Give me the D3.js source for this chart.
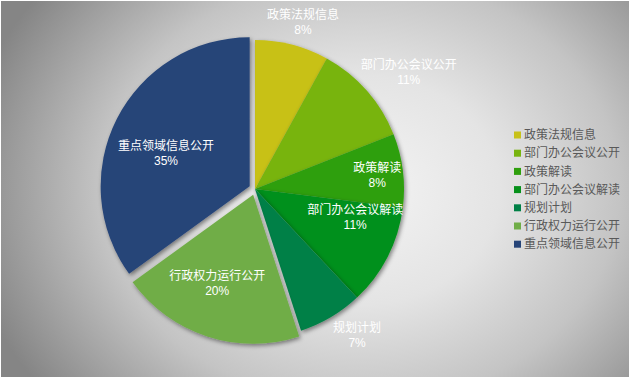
<!DOCTYPE html>
<html><head><meta charset="utf-8">
<script src="https://cdn.jsdelivr.net/npm/d3@7"></script>
<style>html,body{margin:0;padding:0;background:#fff;}svg{display:block;}</style>
</head><body>
<svg id="chart" width="630" height="378"></svg>
<script>
const categories = ["政策法规信息","部门办公会议公开","政策解读","部门办公会议解读","规划计划","行政权力运行公开","重点领域信息公开"];
const values = [8, 11, 8, 11, 7, 20, 35];
const colors = ["#c8c119","#78b40f","#2f9f0d","#06901a","#008046","#70ad47","#264478"];
const explode = [0, 0, 0, 0, 0, 6, 6];
// label layout: radius from centre and angular nudge (degrees)
const labelRadius = [174, 193, 123, 104, 178, 101, 96];
const labelNudge = [1.6, 4.2, 0.7, -11.4, -4.4, 4, -5];

const W = 630, H = 378, cx = 255, cy = 189, R = 149;
const svg = d3.select("#chart");
const defs = svg.append("defs");
const rg = defs.append("radialGradient").attr("id","bg")
  .attr("gradientUnits","userSpaceOnUse")
  .attr("cx",360).attr("cy",190).attr("r",400)
  .attr("gradientTransform","translate(360,190) scale(1,0.82) translate(-360,-190)");
[[0,"#f4f4f4"],[0.35,"#e4e4e4"],[0.65,"#c4c4c4"],[1,"#858585"]].forEach(s=>
  rg.append("stop").attr("offset",s[0]).attr("stop-color",s[1]));
const f = defs.append("filter").attr("id","sh").attr("x","-20%").attr("y","-20%").attr("width","140%").attr("height","140%");
f.append("feDropShadow").attr("dx",1.5).attr("dy",2).attr("stdDeviation",2).attr("flood-color","#000").attr("flood-opacity",0.45);

svg.append("rect").attr("x",1).attr("y",1).attr("width",W-2).attr("height",H-2).attr("fill","url(#bg)");

const pie = d3.pie().value(d=>d).sort(null);
const arcs = pie(values);
const arc = d3.arc().innerRadius(0).outerRadius(R);

const g = svg.append("g").attr("transform",`translate(${cx},${cy})`);
g.selectAll("path").data(arcs).join("path")
  .attr("d", arc)
  .attr("fill", (d,i)=>colors[i])
  .attr("filter","url(#sh)")
  .attr("transform",(d,i)=>{
    const a = (d.startAngle+d.endAngle)/2;
    return `translate(${explode[i]*Math.sin(a)},${-explode[i]*Math.cos(a)})`;
  });

const font = "'Noto Sans CJK SC','Microsoft YaHei',sans-serif";
const numFont = "'Liberation Sans',Arial,sans-serif";
const lab = g.selectAll("g.lab").data(arcs).join("g")
  .attr("class","lab")
  .attr("transform",(d,i)=>{
    const a = (d.startAngle+d.endAngle)/2 + labelNudge[i]*Math.PI/180;
    return `translate(${labelRadius[i]*Math.sin(a)},${-labelRadius[i]*Math.cos(a)})`;
  });
lab.append("text").attr("text-anchor","middle").attr("y",-3)
  .attr("font-family",font).attr("font-size",12).attr("fill","#ffffff")
  .text((d,i)=>categories[i]);
lab.append("text").attr("text-anchor","middle").attr("y",12)
  .attr("font-family",numFont).attr("font-size",12).attr("fill","#ffffff")
  .text(d=>d.value+"%");

const leg = svg.append("g").attr("transform","translate(514,135)");
const li = leg.selectAll("g").data(categories).join("g")
  .attr("transform",(d,i)=>`translate(0,${i*18.2})`);
li.append("rect").attr("x",0).attr("y",-3.5).attr("width",7).attr("height",7).attr("fill",(d,i)=>colors[i]);
li.append("text").attr("x",10).attr("y",0).attr("dy","0.35em")
  .attr("font-family",font).attr("font-size",12).attr("fill","#595959").text(d=>d);
</script>
</body></html>
